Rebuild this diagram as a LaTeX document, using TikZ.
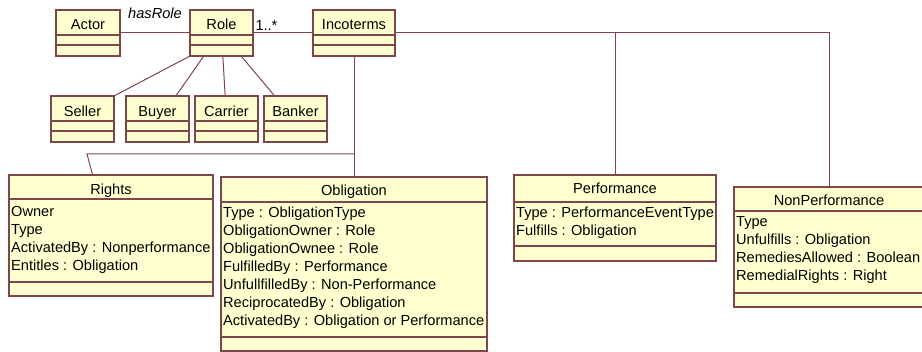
\documentclass[tikz,border=0pt]{standalone}
\usepackage{fontspec}
\setmainfont{Liberation Sans}
\usetikzlibrary{calc}
\definecolor{umlfill}{RGB}{255,255,208}
\definecolor{umledge}{RGB}{125,70,72}
\definecolor{umlwire}{RGB}{128,68,90}
\begin{document}
\begin{tikzpicture}[x=1pt,y=-1pt,
  every node/.style={font=\fontsize{14.6}{18}\selectfont},
  cls/.style={draw=umledge,fill=umlfill,line width=1.2pt,inner sep=0pt,outer sep=0pt},
  sep/.style={draw=umledge,line width=1.2pt},
  wire/.style={draw=umlwire,line width=1pt},
  title/.style={anchor=base,inner sep=0pt},
  attr/.style={anchor=base west,inner sep=0pt}]
  \useasboundingbox (0,0) rectangle (922,352);
  % top row
  \node[cls,minimum width=64pt,minimum height=46pt] (actor) at (88,33) {};
  \draw[sep] (56,35) -- (120,35) (56,45) -- (120,45);
  \node[title] at (88,30) {Actor};
  \node[cls,minimum width=63pt,minimum height=46pt] (role) at (221.5,33) {};
  \draw[sep] (190,35) -- (253,35) (190,45) -- (253,45);
  \node[title] at (221.5,30) {Role};
  \node[cls,minimum width=82pt,minimum height=46pt] (incoterms) at (354,33) {};
  \draw[sep] (313,35) -- (395,35) (313,45) -- (395,45);
  \node[title] at (354,30) {Incoterms};
  % roles
  \node[cls,minimum width=63pt,minimum height=46pt] (seller) at (82.5,119) {};
  \draw[sep] (51,121) -- (114,121) (51,131) -- (114,131);
  \node[title] at (82.5,117) {Seller};
  \node[cls,minimum width=63pt,minimum height=46pt] (buyer) at (157.5,119) {};
  \draw[sep] (126,121) -- (189,121) (126,131) -- (189,131);
  \node[title] at (157.5,117) {Buyer};
  \node[cls,minimum width=63pt,minimum height=46pt] (carrier) at (226.5,119) {};
  \draw[sep] (195,121) -- (258,121) (195,131) -- (258,131);
  \node[title] at (226.5,117) {Carrier};
  \node[cls,minimum width=63pt,minimum height=46pt] (banker) at (295.5,119) {};
  \draw[sep] (264,121) -- (327,121) (264,131) -- (327,131);
  \node[title] at (295.5,117) {Banker};
  % rights
  \node[cls,minimum width=204pt,minimum height=121pt] (rights) at (111,235.5) {};
  \draw[sep] (9,199) -- (213,199) (9,282) -- (213,282);
  \node[title] at (111,195) {Rights};
  \foreach \t [count=\i] in {Owner, Type, ActivatedBy : Nonperformance, Entitles : Obligation}
    \node[attr] at (11,{199+18*\i}) {\t};
  % obligation
  \node[cls,minimum width=266pt,minimum height=174pt] (obligation) at (354,264) {};
  \draw[sep] (221,202) -- (487,202) (221,337) -- (487,337);
  \node[title] at (354,196) {Obligation};
  \foreach \t [count=\i] in {Type : ObligationType, ObligationOwner : Role, ObligationOwnee : Role,
      FulfilledBy : Performance, UnfullfilledBy : Non-Performance, ReciprocatedBy : Obligation,
      ActivatedBy : Obligation or Performance}
    \node[attr] at (223,{200+18*\i}) {\t};
  % performance
  \node[cls,minimum width=202pt,minimum height=86pt] (perf) at (615,218) {};
  \draw[sep] (514,202) -- (716,202) (514,246) -- (716,246);
  \node[title] at (615,194) {Performance};
  \foreach \t [count=\i] in {Type : PerformanceEventType, Fulfills : Obligation}
    \node[attr] at (516,{200+18*\i}) {\t};
  % non performance
  \node[cls,minimum width=190pt,minimum height=120pt] (nonperf) at (829,247) {};
  \draw[sep] (734,211) -- (924,211) (734,293) -- (924,293);
  \node[title] at (829,206) {NonPerformance};
  \foreach \t [count=\i] in {Type, Unfulfills : Obligation, RemediesAllowed : Boolean, RemedialRights : Right}
    \node[attr] at (736,{209+18*\i}) {\t};
  % associations
  \draw[wire] (actor) -- node[above=11pt] {\itshape hasRole} (role);
  \draw[wire] (role) -- node[pos=0,anchor=south west,inner sep=2pt] {1..*} (incoterms);
  \draw[wire] (incoterms) -- (incoterms -| nonperf) -- (nonperf);
  \draw[wire] (incoterms -| perf) -- (perf);
  \draw[wire] (incoterms) -- (obligation);
  \coordinate (rbend) at (87,154);
  \draw[wire] (incoterms |- rbend) -- (rbend) -- ($(rights.north west)!0.41!(rights.north east)$);
  \draw[wire] (role.south west) -- (seller.north east);
  \draw[wire] ($(role.south west)!0.22!(role.south east)$) -- ($(buyer.north west)!0.79!(buyer.north east)$);
  \draw[wire] (role) -- (carrier);
  \draw[wire] ($(role.south west)!0.81!(role.south east)$) -- ($(banker.north west)!0.17!(banker.north east)$);
\end{tikzpicture}
\end{document}
